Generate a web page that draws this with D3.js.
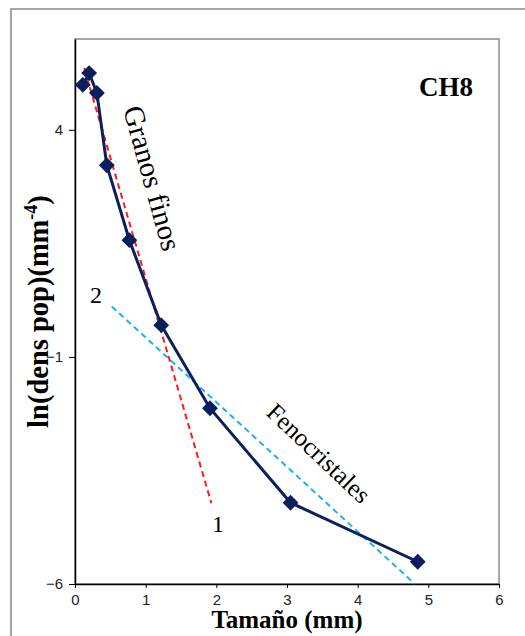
<head>
    <script src="https://cdn.jsdelivr.net/npm/d3@7/dist/d3.min.js"></script>
    <style>
        body { margin: 0; background: #fff; }
        .serif { font-family: "Liberation Serif", "Times New Roman", "DejaVu Serif", serif; }
        .sans { font-family: "Liberation Sans", Arial, sans-serif; }
    </style>
</head>

<body>
    <div id="chart"></div>
</body>

<script>
    const sizes = [0.11, 0.20, 0.31, 0.45, 0.77, 1.22, 1.91, 3.05, 4.85];
    const lnDens = [4.99, 5.25, 4.81, 3.22, 1.57, -0.30, -2.13, -4.21, -5.51];
    const xTicks = [0, 1, 2, 3, 4, 5, 6];
    const yTicks = [-6, -1, 4];
    const fineFit = [[0.13, 5.36], [1.93, -4.22]];     // recta 1 (granos finos)
    const phenoFit = [[0.52, 0.11], [4.81, -6.0]];     // recta 2 (fenocristales)

    const W = 525, H = 636;
    const m = { left: 75, top: 39, right: 499, bottom: 584 };

    const svg = d3.select("#chart").append("svg")
        .attr("width", W)
        .attr("height", H);

    // marco exterior
    svg.append("rect")
        .attr("x", 11).attr("y", 9)
        .attr("width", 540).attr("height", 660)
        .attr("fill", "none")
        .attr("stroke", "#888")
        .attr("stroke-width", 1.5);

    const x = d3.scaleLinear().domain([0, 6]).range([m.left, m.right]);
    const y = d3.scaleLinear().domain([-6, 6]).range([m.bottom, m.top]);

    // borde del area de trazado
    svg.append("rect")
        .attr("x", m.left).attr("y", m.top)
        .attr("width", m.right - m.left).attr("height", m.bottom - m.top)
        .attr("fill", "none")
        .attr("stroke", "#888")
        .attr("stroke-width", 1.5);

    const xAxis = svg.append("g")
        .attr("transform", `translate(0,${m.bottom})`)
        .call(d3.axisBottom(x).tickValues(xTicks).tickFormat(d3.format("d")).tickSize(4).tickSizeOuter(0));
    const yAxis = svg.append("g")
        .attr("transform", `translate(${m.left},0)`)
        .call(d3.axisLeft(y).tickValues(yTicks).tickFormat(d3.format("d")).tickSize(6).tickSizeOuter(0));

    [xAxis, yAxis].forEach(function (g) {
        g.attr("font-family", null);
        g.select(".domain").attr("stroke", "#000").attr("stroke-width", 1.5);
        g.selectAll(".tick line").attr("stroke", "#000");
        g.selectAll(".tick text")
            .attr("class", "sans")
            .attr("font-size", 15)
            .attr("fill", "#222");
    });
    xAxis.selectAll(".tick text").attr("dy", "0.9em");
    yAxis.selectAll(".tick text").attr("x", -12);

    // rectas de ajuste
    const fitLine = d3.line().x(d => x(d[0])).y(d => y(d[1]));
    svg.append("path")
        .attr("d", fitLine(fineFit))
        .attr("fill", "none")
        .attr("stroke", "#ff1a1a")
        .attr("stroke-width", 2)
        .attr("stroke-dasharray", "6,4");
    svg.append("path")
        .attr("d", fitLine(phenoFit))
        .attr("fill", "none")
        .attr("stroke", "#19b4ec")
        .attr("stroke-width", 2)
        .attr("stroke-dasharray", "6,4");

    // serie principal
    const pts = sizes.map((s, i) => [s, lnDens[i]]);
    svg.append("path")
        .attr("d", fitLine(pts))
        .attr("fill", "none")
        .attr("stroke", "#0a1f5c")
        .attr("stroke-width", 3);

    svg.selectAll(".mk")
        .data(pts)
        .enter()
        .append("path")
        .attr("class", "mk")
        .attr("d", d3.symbol().type(d3.symbolDiamond2).size(160))
        .attr("transform", d => `translate(${x(d[0])},${y(d[1])})`)
        .attr("fill", "#0a1f5c");

    // etiquetas internas
    svg.append("text")
        .attr("class", "serif")
        .attr("x", 446).attr("y", 96)
        .attr("text-anchor", "middle")
        .attr("font-weight", "bold")
        .attr("font-size", 27)
        .text("CH8");

    svg.append("text")
        .attr("class", "serif")
        .attr("transform", "translate(123,109) rotate(74.5)")
        .attr("font-size", 29)
        .text("Granos finos");

    svg.append("text")
        .attr("class", "serif")
        .attr("transform", "translate(265,414) rotate(43.5)")
        .attr("font-size", 25)
        .text("Fenocristales");

    svg.append("text")
        .attr("class", "serif")
        .attr("x", 96).attr("y", 303)
        .attr("text-anchor", "middle")
        .attr("font-size", 24)
        .text("2");

    svg.append("text")
        .attr("class", "serif")
        .attr("x", 218).attr("y", 532)
        .attr("text-anchor", "middle")
        .attr("font-size", 24)
        .text("1");

    // titulos de ejes
    svg.append("text")
        .attr("class", "serif")
        .attr("x", 287).attr("y", 628)
        .attr("text-anchor", "middle")
        .attr("font-weight", "bold")
        .attr("font-size", 25)
        .text("Tamaño (mm)");

    const yt = svg.append("text")
        .attr("class", "serif")
        .attr("transform", `translate(48,${(m.top + m.bottom) / 2}) rotate(-90)`)
        .attr("text-anchor", "middle")
        .attr("font-weight", "bold")
        .attr("font-size", 28.5);
    yt.append("tspan").text("ln(dens pop)(mm");
    yt.append("tspan").attr("font-size", 18).attr("dy", -11).text("-4");
    yt.append("tspan").attr("dy", 11).text(")");
</script>
